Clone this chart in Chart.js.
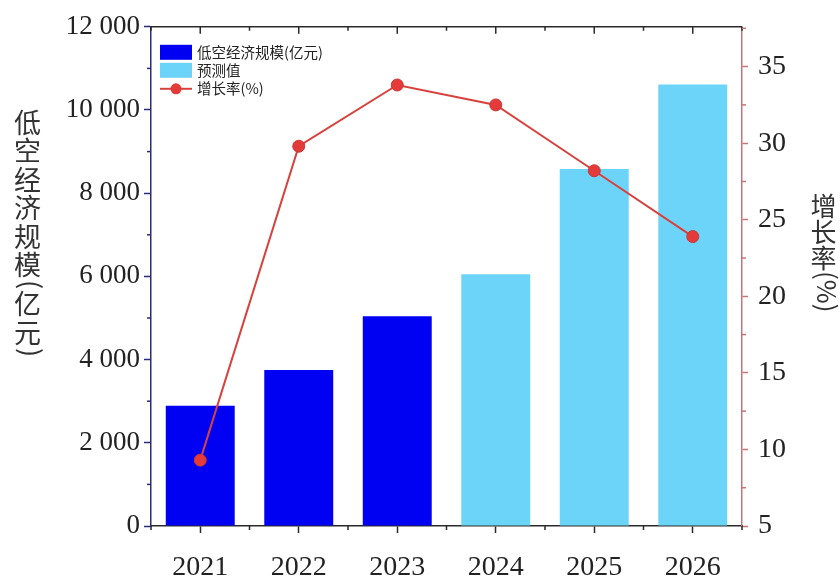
<!DOCTYPE html>
<html>
<head>
<meta charset="utf-8">
<script src="https://cdn.jsdelivr.net/npm/chart.js@4"></script>
<style>
  html, body { margin: 0; padding: 0; background: #fff; }
  #wrap { position: relative; width: 840px; height: 581px; overflow: hidden; }
  canvas { position: absolute; left: 0; top: 0; }
  .vtitle {
    position: absolute;
    writing-mode: vertical-rl;
    text-orientation: mixed;
    font-family: "Noto Sans CJK SC", sans-serif;
    color: #333;
    line-height: 1;
    white-space: nowrap;
    height: 320px;
    width: 30px;
  }
  .vtitle span.lat { position: relative; left: 5px; }
</style>
</head>
<body>
<div id="wrap">
  <canvas id="c" width="840" height="581"></canvas>
  <div class="vtitle" id="ytitle" style="left:11px; top:109px; font-size:27px; letter-spacing:1.5px;"></div>
  <div class="vtitle" id="y1title" style="left:806px; top:193px; font-size:26px;"></div>
</div>
<script>
// ---- data ----
const years = ["2021", "2022", "2023", "2024", "2025", "2026"];
const actualScale = [2890, 3750, 5045, null, null, null];
const forecastScale = [null, null, null, 6050, 8580, 10615];
const growthRate = [9.3, 29.8, 33.8, 32.5, 28.2, 23.9];
const leftTicks = [0, 2000, 4000, 6000, 8000, 10000, 12000];
const rightTicks = [5, 10, 15, 20, 25, 30, 35];
const seriesNames = ["低空经济规模(亿元)", "预测值", "增长率(%)"];
const yTitle = "低空经济规模(亿元)";
const y1Title = "增长率(%)";

function setVerticalTitle(el, text) {
  el.textContent = '';
  const parts = text.match(/[\x00-\x7F]+|[^\x00-\x7F]+/g) || [];
  parts.forEach(p => {
    if (/^[\x00-\x7F]+$/.test(p)) {
      const s = document.createElement('span');
      s.className = 'lat';
      s.textContent = p;
      el.appendChild(s);
    } else {
      el.appendChild(document.createTextNode(p));
    }
  });
}
setVerticalTitle(document.getElementById('ytitle'), yTitle);
setVerticalTitle(document.getElementById('y1title'), y1Title);

const serif = '"Liberation Serif", "Times New Roman", serif';
const cjk = '"Noto Sans CJK SC", sans-serif';
const leftColor = '#2b2b7e';
const rightColor = '#c27676';
const axisDark = '#2a2a2a';

function fmt(v) {
  return String(v).replace(/\B(?=(\d{3})+(?!\d))/g, ' ');
}

const decor = {
  id: 'decor',
  afterDraw(chart) {
    const ctx = chart.ctx;
    const ca = chart.chartArea;
    const x = chart.scales.x, y = chart.scales.y, y1 = chart.scales.y1;
    ctx.save();
    // top border
    ctx.strokeStyle = axisDark;
    ctx.lineWidth = 1.5;
    ctx.beginPath();
    ctx.moveTo(ca.left, ca.top);
    ctx.lineTo(ca.right, ca.top);
    ctx.stroke();
    // top ticks inward, bottom minor ticks outward
    const n = years.length;
    for (let i = 0; i < n; i++) {
      const cx = x.getPixelForValue(i);
      ctx.beginPath();
      ctx.moveTo(cx, ca.top); ctx.lineTo(cx, ca.top + 7);
      ctx.stroke();
    }
    for (let i = 0; i <= n; i++) {
      const bx = x.getPixelForValue(i - 0.5);
      ctx.beginPath();
      ctx.moveTo(bx, ca.top); ctx.lineTo(bx, ca.top + 4);
      ctx.moveTo(bx, ca.bottom); ctx.lineTo(bx, ca.bottom + 4);
      ctx.stroke();
    }
    // left minor ticks
    ctx.strokeStyle = leftColor;
    for (let i = 0; i < leftTicks.length - 1; i++) {
      const v = (leftTicks[i] + leftTicks[i + 1]) / 2;
      const py = y.getPixelForValue(v);
      ctx.beginPath();
      ctx.moveTo(ca.left, py); ctx.lineTo(ca.left - 4, py);
      ctx.stroke();
    }
    // right minor ticks
    ctx.strokeStyle = rightColor;
    for (let i = 0; i < rightTicks.length; i++) {
      const v = rightTicks[i] + 2.5;
      if (v > y1.max) continue;
      const py = y1.getPixelForValue(v);
      ctx.beginPath();
      ctx.moveTo(ca.right, py); ctx.lineTo(ca.right + 4, py);
      ctx.stroke();
    }
    // legend
    const ds = chart.data.datasets;
    const lx = ca.left + 9;
    ctx.fillStyle = ds[0].backgroundColor;
    ctx.fillRect(lx, ca.top + 18, 32, 15);
    ctx.fillStyle = ds[1].backgroundColor;
    ctx.fillRect(lx, ca.top + 36, 32, 15);
    ctx.strokeStyle = ds[2].borderColor;
    ctx.lineWidth = 2;
    ctx.beginPath();
    ctx.moveTo(lx, ca.top + 62); ctx.lineTo(lx + 32, ca.top + 62);
    ctx.stroke();
    ctx.fillStyle = ds[2].pointBackgroundColor;
    ctx.beginPath();
    ctx.arc(lx + 16, ca.top + 62, 5.5, 0, Math.PI * 2);
    ctx.fill();
    ctx.fillStyle = '#222';
    ctx.font = '14.5px ' + cjk;
    ctx.textBaseline = 'middle';
    ctx.textAlign = 'left';
    ctx.fillText(ds[0].label, lx + 37, ca.top + 26);
    ctx.fillText(ds[1].label, lx + 37, ca.top + 44);
    ctx.fillText(ds[2].label, lx + 37, ca.top + 62);
    ctx.restore();
  }
};

new Chart(document.getElementById('c'), {
  data: {
    labels: years,
    datasets: [
      {
        type: 'bar', label: seriesNames[0], data: actualScale,
        backgroundColor: '#0000f2', yAxisID: 'y',
        categoryPercentage: 1, barPercentage: 0.7, order: 2
      },
      {
        type: 'bar', label: seriesNames[1], data: forecastScale,
        backgroundColor: '#6dd4f9', yAxisID: 'y',
        categoryPercentage: 1, barPercentage: 0.7, order: 2
      },
      {
        type: 'line', label: seriesNames[2], data: growthRate,
        yAxisID: 'y1', borderColor: '#d8423e', borderWidth: 2,
        pointRadius: 6, pointBackgroundColor: '#e53a3a',
        pointBorderColor: '#c93636', pointBorderWidth: 1,
        tension: 0, order: 0
      }
    ]
  },
  options: {
    responsive: false,
    animation: false,
    events: [],
    layout: { padding: { top: 24, left: 0, right: 0, bottom: 0 } },
    plugins: { legend: { display: false }, tooltip: { enabled: false } },
    scales: {
      x: {
        type: 'category', stacked: true, offset: true,
        grid: { offset: false, drawOnChartArea: false, tickLength: 7, tickColor: axisDark, tickWidth: 1.5 },
        border: { color: axisDark, width: 1.5 },
        ticks: { font: { family: serif, size: 28 }, color: '#222', padding: 18, maxRotation: 0 },
        afterFit(s) { s.height = 55; }
      },
      y: {
        position: 'left', stacked: true, min: 0, max: 12000,
        grid: { drawOnChartArea: false, tickLength: 7, tickColor: leftColor, tickWidth: 1.5 },
        border: { color: leftColor, width: 1.5 },
        ticks: {
          stepSize: 2000, font: { family: serif, size: 27 }, color: '#222', padding: 4,
          callback: v => fmt(v)
        },
        afterBuildTicks(s) { s.ticks = leftTicks.map(v => ({ value: v })); },
        afterFit(s) { s.width = 151; }
      },
      y1: {
        position: 'right', min: 5, max: 37.6,
        grid: { drawOnChartArea: false, tickLength: 6, tickColor: rightColor, tickWidth: 1.5 },
        border: { color: rightColor, width: 1.5 },
        ticks: { font: { family: serif, size: 28 }, color: '#222', padding: 10 },
        afterBuildTicks(s) { s.ticks = rightTicks.map(v => ({ value: v })); },
        afterFit(s) { s.width = 98; }
      }
    }
  },
  plugins: [decor]
});
</script>
</body>
</html>
